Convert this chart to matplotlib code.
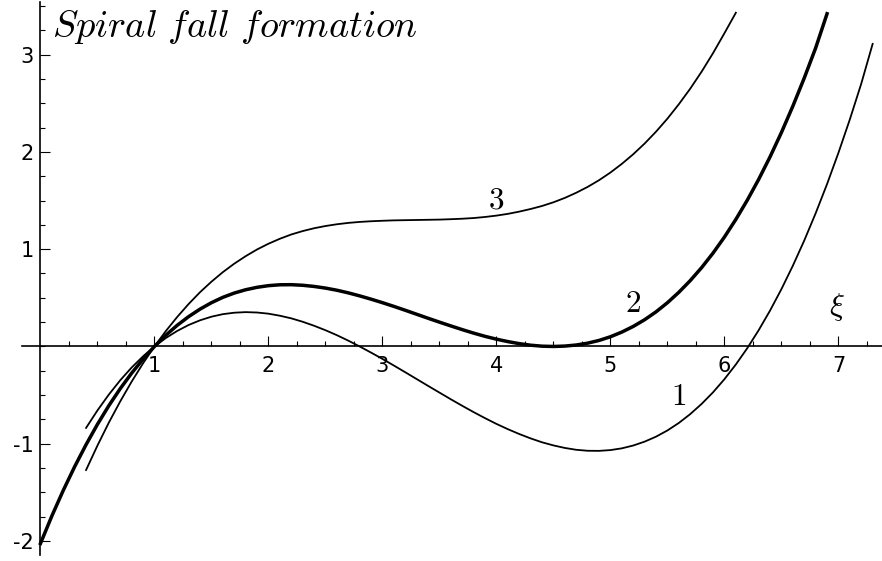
import numpy as np
import matplotlib
matplotlib.use("Agg")
import matplotlib.pyplot as plt

plt.rcParams['mathtext.fontset'] = 'cm'
plt.rcParams['axes.unicode_minus'] = False
plt.rcParams['font.family'] = ['DejaVu Sans']

# curve 1: dips below the axis between 2.8 and 6.2
xi_1 = [0.4, 0.5, 0.6, 0.7, 0.8, 0.9, 1.0, 1.1, 1.2, 1.3, 1.4, 1.5, 1.6, 1.7,
        1.8, 1.9, 2.0, 2.1, 2.2, 2.3, 2.4, 2.5, 2.6, 2.7, 2.8, 2.9, 3.0, 3.1,
        3.2, 3.3, 3.4, 3.5, 3.6, 3.7, 3.8, 3.9, 4.0, 4.1, 4.2, 4.3, 4.4, 4.5,
        4.6, 4.7, 4.8, 4.9, 5.0, 5.1, 5.2, 5.3, 5.4, 5.5, 5.6, 5.7, 5.8, 5.9,
        6.0, 6.1, 6.2, 6.3, 6.4, 6.5, 6.6, 6.7, 6.8, 6.9, 7.0, 7.1, 7.2, 7.3]
f_1 = [-0.837, -0.657, -0.494, -0.347, -0.216, -0.101, 0.0, 0.087, 0.160,
       0.221, 0.269, 0.306, 0.332, 0.347, 0.353, 0.349, 0.337, 0.316, 0.289,
       0.254, 0.213, 0.167, 0.116, 0.060, 0.0, -0.063, -0.128, -0.196, -0.265,
       -0.335, -0.405, -0.474, -0.543, -0.610, -0.675, -0.737, -0.796, -0.850,
       -0.900, -0.945, -0.985, -1.017, -1.043, -1.062, -1.072, -1.073, -1.065,
       -1.047, -1.018, -0.978, -0.927, -0.863, -0.786, -0.695, -0.590, -0.471,
       -0.336, -0.185, -0.018, 0.167, 0.369, 0.590, 0.830, 1.089, 1.369, 1.669,
       1.991, 2.334, 2.701, 3.110]

# curve 2: the separatrix, touching the axis at 4.5
xi_2 = [0.0, 0.1, 0.2, 0.3, 0.4, 0.5, 0.6, 0.7, 0.8, 0.9, 1.0, 1.1, 1.2, 1.3,
        1.4, 1.5, 1.6, 1.7, 1.8, 1.9, 2.0, 2.1, 2.2, 2.3, 2.4, 2.5, 2.6, 2.7,
        2.8, 2.9, 3.0, 3.1, 3.2, 3.3, 3.4, 3.5, 3.6, 3.7, 3.8, 3.9, 4.0, 4.1,
        4.2, 4.3, 4.4, 4.5, 4.6, 4.7, 4.8, 4.9, 5.0, 5.1, 5.2, 5.3, 5.4, 5.5,
        5.6, 5.7, 5.8, 5.9, 6.0, 6.1, 6.2, 6.3, 6.4, 6.5, 6.6, 6.7, 6.8, 6.9]
f_2 = [-2.025, -1.742, -1.479, -1.235, -1.009, -0.800, -0.608, -0.433, -0.274,
       -0.130, 0.0, 0.116, 0.218, 0.307, 0.384, 0.450, 0.505, 0.549, 0.583,
       0.608, 0.625, 0.634, 0.635, 0.629, 0.617, 0.600, 0.578, 0.551, 0.520,
       0.486, 0.450, 0.412, 0.372, 0.331, 0.290, 0.250, 0.211, 0.173, 0.137,
       0.104, 0.075, 0.050, 0.029, 0.013, 0.003, 0.0, 0.004, 0.015, 0.034,
       0.062, 0.100, 0.148, 0.206, 0.275, 0.356, 0.450, 0.557, 0.677, 0.811,
       0.960, 1.125, 1.306, 1.503, 1.717, 1.949, 2.200, 2.470, 2.759, 3.068,
       3.420]

# curve 3: stays above the axis after 1
xi_3 = [0.4, 0.5, 0.6, 0.7, 0.8, 0.9, 1.0, 1.1, 1.2, 1.3, 1.4, 1.5, 1.6, 1.7,
        1.8, 1.9, 2.0, 2.1, 2.2, 2.3, 2.4, 2.5, 2.6, 2.7, 2.8, 2.9, 3.0, 3.1,
        3.2, 3.3, 3.4, 3.5, 3.6, 3.7, 3.8, 3.9, 4.0, 4.1, 4.2, 4.3, 4.4, 4.5,
        4.6, 4.7, 4.8, 4.9, 5.0, 5.1, 5.2, 5.3, 5.4, 5.5, 5.6, 5.7, 5.8, 5.9,
        6.0, 6.1]
f_3 = [-1.270, -1.018, -0.782, -0.564, -0.361, -0.173, 0.0, 0.159, 0.304,
       0.437, 0.558, 0.666, 0.764, 0.851, 0.928, 0.997, 1.056, 1.107, 1.151,
       1.186, 1.215, 1.238, 1.256, 1.270, 1.280, 1.287, 1.292, 1.296, 1.298,
       1.300, 1.302, 1.304, 1.308, 1.313, 1.320, 1.331, 1.345, 1.363, 1.386,
       1.413, 1.444, 1.482, 1.527, 1.580, 1.640, 1.709, 1.788, 1.877, 1.976,
       2.086, 2.208, 2.342, 2.490, 2.650, 2.825, 3.015, 3.220, 3.430]

x_ticks = [1, 2, 3, 4, 5, 6, 7]
y_ticks = [-2, -1, 1, 2, 3]

fig = plt.figure(figsize=(8.82, 5.61), dpi=100)
ax = fig.add_axes([0, 0, 1, 1])
ax.set_xlim(-0.355, 7.382)
ax.set_ylim(-2.205, 3.561)

ax.plot(xi_1, f_1, color='black', lw=1.3, solid_joinstyle='round')
ax.plot(xi_2, f_2, color='black', lw=2.5, solid_joinstyle='round')
ax.plot(xi_3, f_3, color='black', lw=1.3, solid_joinstyle='round')

# axes crossing at the origin
for side in ['top', 'right']:
    ax.spines[side].set_visible(False)
ax.spines['left'].set_position('zero')
ax.spines['bottom'].set_position('zero')
ax.spines['left'].set_bounds(-2.14, 3.54)
ax.spines['bottom'].set_bounds(-0.16, 7.382)
for side in ['left', 'bottom']:
    ax.spines[side].set_linewidth(1.2)

ax.set_xticks(x_ticks)
ax.set_xticklabels([str(t) for t in x_ticks])
ax.set_yticks(y_ticks)
ax.set_yticklabels([str(t) for t in y_ticks])
ax.set_xticks(np.arange(0.25, 7.3, 0.25), minor=True)
ax.set_yticks(np.arange(-2.0, 3.6, 0.25), minor=True)
ax.tick_params(which='major', direction='in', length=7.2, width=0.8, labelsize=15)
ax.tick_params(which='minor', direction='in', length=3.4, width=0.8)
ax.tick_params(axis='x', which='major', pad=7)
ax.tick_params(axis='y', which='major', pad=5)
ax.patch.set_visible(False)

ax.text(0.059, 0.9346, r'$Spiral\ fall\ formation$', transform=ax.transAxes,
        fontsize=27.5, ha='left', va='baseline')
ax.text(4.0, 1.51, r'$3$', fontsize=22.5, ha='center', va='center')
ax.text(5.20, 0.444, r'$2$', fontsize=22.5, ha='center', va='center')
ax.text(5.60, -0.51, r'$1$', fontsize=22.5, ha='center', va='center')
ax.text(6.985, 0.41, r'$\xi$', fontsize=22.5, ha='center', va='center')

fig.savefig('out.png', dpi=100)
